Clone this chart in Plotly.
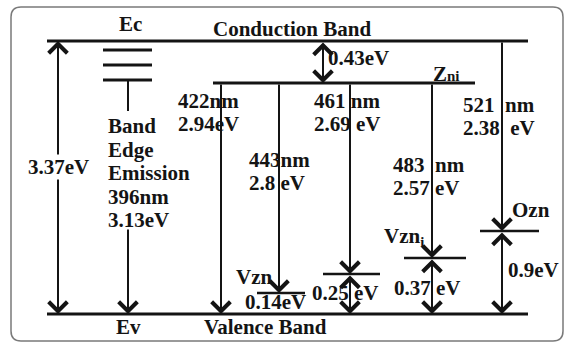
import plotly.graph_objects as go

# ---- values ---------------------------------------------------------------
band_gap_eV = 3.37
band_gap_label = "3.37eV"
zni_depth_label = "0.43eV"

# emission transitions: wavelength and photon energy
wavelength_labels = ["396nm", "422nm", "443nm", "461 nm", "483  nm", "521  nm"]
energy_labels = ["3.13eV", "2.94eV", "2.8 eV", "2.69 eV", "2.57 eV", "2.38  eV"]

# defect levels above the valence band
defect_names = ["Vzn", "", "Vzn<sub>i</sub>", "Ozn"]
defect_depth_labels = ["0.14eV", "0.25 eV", "0.37 eV", "0.9eV"]

# ---- schematic layout (diagram units, y grows downward) --------------------
W, H = 566, 343
Y_CB, Y_VB, Y_ZNI = 41, 314, 83
X_BAND_L, X_BAND_R = 47, 528
X_GAP = 58
X_EDGE = 128
X_ZNI_ARROW = 323
ZNI_SPAN = (213, 475)
# columns of the transitions
X_422, X_443, X_461, X_483, X_521 = 221, 279, 350, 432, 502
# defect levels: (y, x0, x1)
lvl_vzn = (293, 257, 305)
lvl_025 = (274, 323, 380)
lvl_vzni = (258, 404, 466)
lvl_ozn = (231, 480, 539)

INK = "#141414"
FONT = "Liberation Serif"
FS = 21
HEAD = 1.8

fig = go.Figure()
shapes = []
annotations = []


def hline(y, x0, x1, w=3):
    shapes.append(dict(type="line", xref="x", yref="y", x0=x0, x1=x1, y0=y, y1=y,
                       line=dict(color=INK, width=w)))


def vline(x, y0, y1, w=2):
    shapes.append(dict(type="line", xref="x", yref="y", x0=x, x1=x, y0=y0, y1=y1,
                       line=dict(color=INK, width=w)))


def arrow(x, y_from, y_to, both=False):
    a = dict(x=x, y=y_to, ax=x, ay=y_from, xref="x", yref="y", axref="x", ayref="y",
             text="", showarrow=True, arrowhead=4, arrowsize=HEAD, arrowwidth=2,
             arrowcolor=INK, standoff=0, startstandoff=0)
    if both:
        a.update(arrowside="end+start", startarrowhead=4, startarrowsize=HEAD)
    annotations.append(a)


def label(x, y, text, anchor="left", size=FS, bg=None, markup=False):
    # keep runs of spaces visible in plain labels
    shown = text if markup else text.replace(" ", "&nbsp;")
    a = dict(x=x, y=y, xref="x", yref="y", text=shown,
             showarrow=False, xanchor=anchor, yanchor="middle", borderpad=0,
             font=dict(family=FONT, size=size, color=INK, weight="bold"))
    if bg:
        a.update(bgcolor=bg)
    annotations.append(a)


# rounded outer frame
r = 10
x0, y0, x1, y1 = 11, 7, 563, 341
shapes.append(dict(
    type="path", xref="x", yref="y",
    path=(f"M{x0 + r},{y0} L{x1 - r},{y0} Q{x1},{y0} {x1},{y0 + r} "
          f"L{x1},{y1 - r} Q{x1},{y1} {x1 - r},{y1} L{x0 + r},{y1} "
          f"Q{x0},{y1} {x0},{y1 - r} L{x0},{y0 + r} Q{x0},{y0} {x0 + r},{y0} Z"),
    line=dict(color="#7a7a7a", width=1.5)))

# conduction and valence bands
hline(Y_CB, X_BAND_L, X_BAND_R)
hline(Y_VB, X_BAND_L, X_BAND_R)

# band gap
arrow(X_GAP, 167, Y_CB)
arrow(X_GAP, 167, Y_VB)
label(X_GAP, 167, band_gap_label, anchor="center", bg="white")

# band-edge emission
for yy in (50, 65, 80):
    hline(yy, 103, 152)
vline(X_EDGE, 80, 111)
arrow(X_EDGE, 228, Y_VB)
edge_lines = ["Band", "Edge", "Emission", wavelength_labels[0], energy_labels[0]]
for i, t in enumerate(edge_lines):
    label(107, 126 + 23.5 * i, t)

# Zni level
hline(Y_ZNI, *ZNI_SPAN)
arrow(X_ZNI_ARROW, Y_CB, Y_ZNI, both=True)
label(327, 58, zni_depth_label)
label(432, 74, "Z<span style='font-size:15px'>ni</span>", markup=True)

# defect levels
for lv in (lvl_vzn, lvl_025, lvl_vzni, lvl_ozn):
    hline(lv[0], lv[1], lv[2], w=2.5)

# transitions
arrow(X_422, Y_ZNI, Y_VB)
arrow(X_443, Y_ZNI, lvl_vzn[0])
arrow(X_461, Y_ZNI, lvl_025[0])
arrow(X_461, lvl_025[0], Y_VB, both=True)
arrow(X_483, Y_ZNI, lvl_vzni[0])
arrow(X_483, lvl_vzni[0], Y_VB, both=True)
arrow(X_521, Y_CB, lvl_ozn[0])
arrow(X_521, lvl_ozn[0], Y_VB, both=True)

# transition labels
label(177, 101, wavelength_labels[1]); label(177, 124, energy_labels[1])
label(248, 160, wavelength_labels[2]); label(248, 183, energy_labels[2])
label(313, 101, wavelength_labels[3]); label(313, 124, energy_labels[3])
label(392, 165, wavelength_labels[4]); label(392, 188, energy_labels[4])
label(462, 105, wavelength_labels[5]); label(462, 128, energy_labels[5])

# defect labels
label(235, 277, defect_names[0])
label(244, 302, defect_depth_labels[0])
label(311, 293, defect_depth_labels[1])
label(383, 237, defect_names[2], markup=True)
label(393, 288, defect_depth_labels[2])
label(511, 210, defect_names[3])
label(507, 270, defect_depth_labels[3])

# band names
label(292, 29, "Conduction Band", anchor="center")
label(265, 327, "Valence Band", anchor="center")
label(130, 24, "Ec", anchor="center")
label(128, 327, "Ev", anchor="center")

fig.update_layout(
    width=W, height=H,
    margin=dict(l=0, r=0, t=0, b=0),
    paper_bgcolor="white", plot_bgcolor="white",
    xaxis=dict(range=[0, W], visible=False, fixedrange=True),
    yaxis=dict(range=[H, 0], visible=False, fixedrange=True),
    shapes=shapes, annotations=annotations,
    showlegend=False,
)

fig.write_html("out.html", config={"displayModeBar": False})
